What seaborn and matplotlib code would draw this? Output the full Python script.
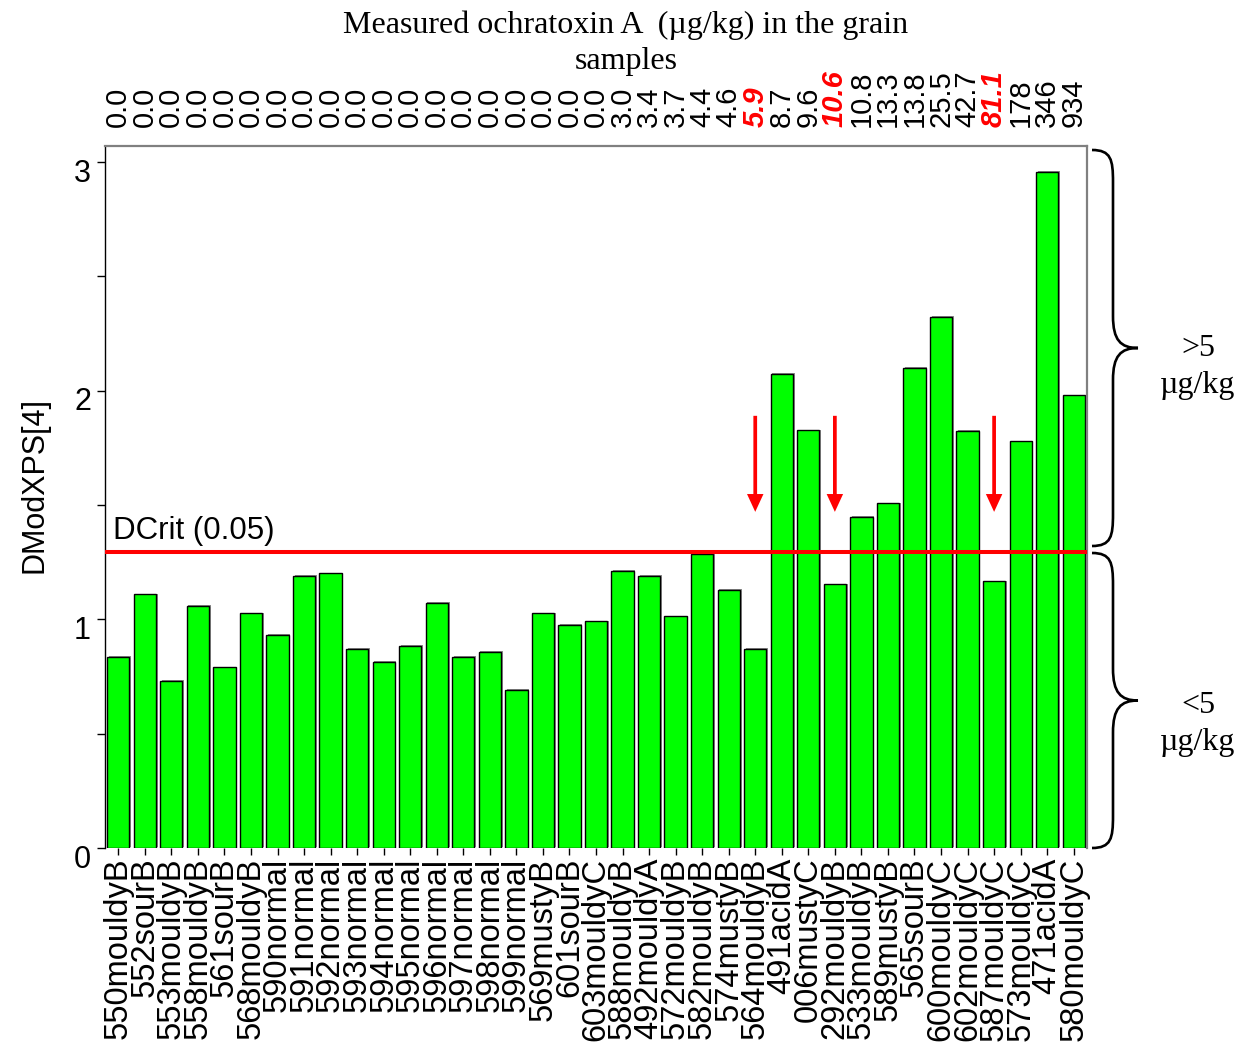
import numpy as np
import pandas as pd
import matplotlib
matplotlib.use("Agg")
import matplotlib.pyplot as plt
import matplotlib.transforms as mtransforms
from matplotlib.path import Path
from matplotlib.patches import PathPatch
import matplotlib.patheffects as pe
import seaborn as sns

# Sample identifiers, in plotting order
samples = [
    "550mouldyB", "552sourB", "553mouldyB", "558mouldyB", "561sourB", "568mouldyB",
    "590normal", "591normal", "592normal", "593normal", "594normal", "595normal",
    "596normal", "597normal", "598normal", "599normal", "569mustyB", "601sourB",
    "603mouldyC", "588mouldyB", "492mouldyA", "572mouldyB", "582mouldyB", "574mustyB",
    "564mouldyB", "491acidA", "006mustyC", "292mouldyB", "533mouldyB", "589mustyB",
    "565sourB", "600mouldyC", "602mouldyC", "587mouldyC", "573mouldyC", "471acidA",
    "580mouldyC",
]

# Distance to model (DModXPS[4]) for each sample
dmodx = [
    0.836, 1.109, 0.730, 1.058, 0.790, 1.026,
    0.933, 1.191, 1.201, 0.870, 0.812, 0.883,
    1.073, 0.836, 0.858, 0.692, 1.026, 0.976,
    0.991, 1.213, 1.189, 1.013, 1.284, 1.129,
    0.871, 2.074, 1.826, 1.153, 1.449, 1.507,
    2.098, 2.323, 1.825, 1.166, 1.778, 2.957,
    1.979,
]

# Measured ochratoxin A content (ug/kg), shown on the top axis
ota_labels = [
    "0.0", "0.0", "0.0", "0.0", "0.0", "0.0", "0.0", "0.0", "0.0", "0.0",
    "0.0", "0.0", "0.0", "0.0", "0.0", "0.0", "0.0", "0.0", "0.0",
    "3.0", "3.4", "3.7", "4.4", "4.6", "5.9", "8.7", "9.6", "10.6", "10.8",
    "13.3", "13.8", "25.5", "42.7", "81.1", "178", "346", "934",
]

# Samples above 5 ug/kg that fall below the critical distance
flagged = ["564mouldyB", "292mouldyB", "587mouldyC"]

dcrit = 1.296
ymax = 3.07

df = pd.DataFrame({"sample": samples, "dmodx": dmodx})

sns.set_style("white")
plt.rcParams["font.family"] = ["Liberation Sans", "DejaVu Sans"]
plt.rcParams["text.color"] = "black"
plt.rcParams["axes.labelcolor"] = "black"
plt.rcParams["xtick.color"] = "black"
plt.rcParams["ytick.color"] = "black"
serif = ["Liberation Serif", "DejaVu Serif"]

W, H, DPI = 1243, 1050, 100
fig = plt.figure(figsize=(W / DPI, H / DPI), dpi=DPI)
ax = fig.add_axes([105 / W, 1 - 848 / H, (1087 - 105) / W, (848 - 146) / H])

sns.barplot(data=df, x="sample", y="dmodx", color="#00ff00", saturation=1,
            edgecolor="black", linewidth=1.0, width=0.84, ax=ax)
for bar in ax.patches:
    bar.set_path_effects([
        pe.SimplePatchShadow(offset=(1.2, 0.6), shadow_rgbFace="#808080", alpha=0.9),
        pe.Normal(),
    ])

ax.set_xlim(-0.5, len(samples) - 0.5)
ax.set_ylim(0, ymax)
ax.set_xlabel("")
ax.set_ylabel("")

# Frame
ax.spines["left"].set_color("black")
ax.spines["left"].set_linewidth(1.0)
for side in ("top", "right"):
    ax.spines[side].set_color("#808080")
    ax.spines[side].set_linewidth(1.6)
ax.spines["bottom"].set_visible(False)

# Top axis with ochratoxin A content
ax2 = ax.twiny()
ax2.set_xlim(ax.get_xlim())
ax2.set_xticks(range(len(samples)))
ax2.set_xticklabels(ota_labels, rotation=90, ha="center", va="bottom")
ax2.tick_params(axis="x", top=True, length=0, labelsize=21, pad=14,
                labelcolor="black")
ax2.tick_params(axis="y", left=False, right=False, labelleft=False, labelright=False)
for s in ax2.spines.values():
    s.set_visible(False)
for name in flagged:
    lbl = ax2.get_xticklabels()[samples.index(name)]
    lbl.set_color("red")
    lbl.set_fontweight("bold")
    lbl.set_fontstyle("italic")

# Ticks of the main axes
ax.set_yticks([0, 1, 2, 3])
ax.set_yticklabels(["0", "1", "2", "3"])
ax.set_yticks([0.5, 1.5, 2.5], minor=True)
ax.tick_params(axis="y", which="both", direction="out", length=6, width=1,
               color="black", labelcolor="black", left=True, labelleft=True,
               labelsize=22, pad=4)
ax.tick_params(axis="x", direction="out", length=5, width=1, color="black",
               labelcolor="black", bottom=True, labelsize=23.5, pad=2)
ax.set_xticks(range(len(samples)))
ax.set_xticklabels(samples, rotation=90, va="top", ha="center")
shift = mtransforms.ScaledTranslation(0, -8 / DPI, fig.dpi_scale_trans)
for lbl in ax.get_yticklabels():
    lbl.set_transform(lbl.get_transform() + shift)

# Critical distance
ax.axhline(dcrit, color="red", lw=2.9, zorder=5)
ax.text(-0.2, dcrit + 0.025, "DCrit (0.05)", fontsize=22.5, color="black",
        ha="left", va="bottom", zorder=6)

# Arrows over the flagged samples
for name in flagged:
    i = samples.index(name)
    ax.arrow(i, 1.89, 0, 1.47 - 1.89, width=0.14, head_width=0.62,
             head_length=0.078, length_includes_head=True,
             color="red", lw=0, zorder=6)

# Titles
fig.text(35 / W, 1 - 485 / H, "DModXPS[4]", rotation=90, fontsize=22,
         color="black", ha="center", va="center")
fig.text(626 / W, 1 - 43 / H, "Measured ochratoxin A  (\u00b5g/kg) in the grain\nsamples",
         family=serif, fontsize=23, color="black", ha="center", va="center",
         multialignment="center", linespacing=1.3)

# Braces grouping the samples by contamination level
over = fig.add_axes([0, 0, 1, 1], facecolor="none")
over.set_xlim(0, W)
over.set_ylim(H, 0)
over.axis("off")


def brace(axo, x_end, x_tip, y0, y1, r=32):
    ym = (y0 + y1) / 2
    xs = (x_end + x_tip) / 2 - 2
    verts = [
        (x_end, y0),
        (xs - 2, y0), (xs, y0 + r * 0.3), (xs, y0 + r),
        (xs, ym - r),
        (xs, ym - r * 0.25), (xs + (x_tip - xs) * 0.3, ym), (x_tip, ym),
        (xs + (x_tip - xs) * 0.3, ym), (xs, ym + r * 0.25), (xs, ym + r),
        (xs, y1 - r),
        (xs, y1 - r * 0.3), (xs - 2, y1), (x_end, y1),
    ]
    codes = [Path.MOVETO,
             Path.CURVE4, Path.CURVE4, Path.CURVE4,
             Path.LINETO,
             Path.CURVE4, Path.CURVE4, Path.CURVE4,
             Path.CURVE4, Path.CURVE4, Path.CURVE4,
             Path.LINETO,
             Path.CURVE4, Path.CURVE4, Path.CURVE4]
    axo.add_patch(PathPatch(Path(verts, codes), facecolor="none",
                            edgecolor="black", lw=1.9))


brace(over, 1092, 1138, 150, 546)
brace(over, 1092, 1138, 553, 848)

over.text(1198, 367, ">5\n\u00b5g/kg", family=serif, fontsize=23, color="black",
          ha="center", va="center", linespacing=1.4)
over.text(1198, 724, "<5\n\u00b5g/kg", family=serif, fontsize=23, color="black",
          ha="center", va="center", linespacing=1.4)

fig.savefig("out.png", dpi=DPI)
